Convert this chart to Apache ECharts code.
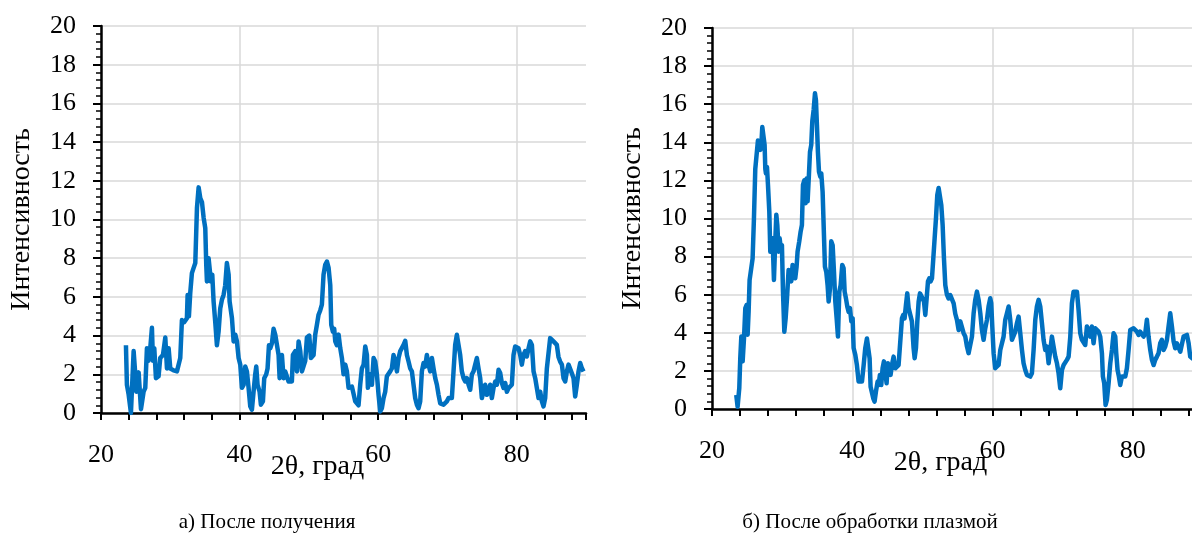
<!DOCTYPE html>
<html>
<head>
<meta charset="utf-8">
<script src="https://cdn.jsdelivr.net/npm/echarts@6/dist/echarts.min.js"></script>
<style>
  html, body { margin: 0; padding: 0; background: #fff; }
  #chart { width: 1192px; height: 540px; }
</style>
</head>
<body>
<div id="chart"></div>
<script>
// а) После получения
const angleA = [23.6, 23.74, 23.99, 24.32, 24.71, 24.95, 25.09, 25.43, 25.77, 26.15, 26.39, 26.63, 26.87, 27.11, 27.35, 27.5, 27.69, 27.93, 28.31, 28.55,
  28.94, 29.28, 29.52, 29.76, 30.0, 30.48, 30.96, 31.44, 31.68, 32.02, 32.4, 32.5, 32.69, 32.88, 33.12, 33.37, 33.61, 33.85, 34.09, 34.33,
  34.57, 34.81, 35.05, 35.19, 35.29, 35.53, 35.77, 35.87, 36.06, 36.25, 36.49, 36.73, 36.97, 37.21, 37.45, 37.69, 37.93, 38.17, 38.42, 38.56,
  38.9, 39.14, 39.38, 39.62, 39.86, 40.1, 40.34, 40.58, 40.82, 41.06, 41.3, 41.54, 41.78, 42.02, 42.26, 42.41, 42.6, 42.89, 43.08, 43.37,
  43.56, 43.85, 44.04, 44.24, 44.43, 44.67, 44.91, 45.15, 45.39, 45.63, 45.78, 45.97, 46.11, 46.35, 46.59, 47.07, 47.55, 47.7, 48.04, 48.28,
  48.52, 48.76, 49.0, 49.24, 49.48, 49.72, 50.06, 50.3, 50.68, 50.92, 51.16, 51.4, 51.64, 51.88, 52.12, 52.36, 52.61, 52.85, 53.09, 53.23,
  53.47, 53.66, 53.81, 54.05, 54.29, 54.53, 54.77, 55.01, 55.25, 55.49, 55.73, 56.21, 56.45, 56.69, 56.93, 57.17, 57.41, 57.65, 57.9, 58.14,
  58.38, 58.52, 58.71, 58.86, 59.1, 59.34, 59.58, 59.82, 60.06, 60.3, 60.54, 60.78, 61.02, 61.26, 61.5, 61.74, 61.98, 62.22, 62.46, 62.71,
  62.95, 63.19, 63.43, 63.67, 63.91, 64.15, 64.39, 64.63, 64.87, 65.11, 65.35, 65.59, 65.83, 66.07, 66.31, 66.55, 66.79, 67.03, 67.27, 67.52,
  67.76, 68.0, 68.24, 68.48, 68.72, 68.96, 69.2, 69.44, 69.68, 69.92, 70.16, 70.4, 70.64, 70.88, 71.12, 71.36, 71.6, 71.84, 72.08, 72.33,
  72.57, 72.81, 73.05, 73.29, 73.53, 73.77, 74.01, 74.25, 74.49, 74.73, 74.97, 75.21, 75.45, 75.69, 75.93, 76.17, 76.41, 76.65, 76.9, 77.14,
  77.38, 77.62, 77.86, 78.1, 78.34, 78.58, 78.82, 79.06, 79.3, 79.54, 79.78, 80.02, 80.26, 80.5, 80.74, 80.98, 81.22, 81.46, 81.71, 81.95,
  82.19, 82.43, 82.67, 82.91, 83.15, 83.39, 83.63, 83.87, 84.11, 84.35, 84.59, 84.83, 85.07, 85.31, 85.55, 85.79, 86.03, 86.27, 86.52, 86.76,
  87.0, 87.24, 87.48, 87.72, 87.96, 88.2, 88.44, 88.68, 88.92, 89.16, 89.4, 89.64];
const intensityA = [3.5, 1.45, 0.95, 0.0, 3.2, 2.0, 1.1, 2.1, 0.2, 1.1, 1.3, 3.35, 2.7, 3.35, 4.4, 2.7, 3.35, 1.8, 1.9, 2.84,
  3.0, 3.9, 2.3, 3.35, 2.3, 2.2, 2.15, 2.84, 4.8, 4.7, 4.9, 6.1, 5.0, 6.2, 7.23, 7.5, 7.75, 10.6, 11.66, 11.1,
  10.9, 10.1, 9.55, 7.66, 6.8, 8.0, 8.0, 6.8, 7.15, 5.77, 4.7, 3.5, 4.2, 5.4, 5.85, 6.1, 6.6, 7.75, 7.15, 5.77,
  4.9, 3.7, 4.05, 3.7, 2.84, 2.5, 1.3, 1.45, 2.4, 2.15, 1.3, 0.35, 0.17, 1.1, 2.0, 2.4, 1.45, 1.1, 0.43, 0.6,
  1.8, 2.0, 2.3, 3.5, 3.35, 3.6, 4.35, 4.05, 4.1, 3.0, 1.8, 2.7, 3.0, 1.8, 2.15, 1.63, 1.63, 3.0, 3.2, 2.15,
  3.7, 3.2, 2.15, 2.15, 2.7, 3.9, 4.0, 2.84, 3.0, 4.05, 4.56, 5.08, 5.3, 5.6, 7.15, 7.66, 7.83, 7.5, 6.6, 4.56,
  4.2, 4.35, 3.7, 3.5, 4.05, 3.35, 2.84, 2.0, 2.5, 2.15, 1.3, 1.37, 1.0, 0.6, 0.68, 0.4, 1.46, 2.3, 2.5, 3.44,
  3.0, 1.3, 1.2, 2.0, 1.46, 2.84, 2.66, 2.0, 0.94, 0.08, 0.25, 0.77, 1.1, 1.9, 1.98, 2.15, 2.3, 3.0, 2.66, 2.15,
  2.84, 3.2, 3.1, 3.52, 3.73, 3.0, 2.66, 2.3, 2.15, 1.46, 0.77, 0.43, 0.25, 0.6, 2.15, 2.58, 2.4, 3.0, 2.5, 2.15,
  2.84, 2.3, 1.8, 1.46, 0.94, 0.5, 0.43, 0.43, 0.5, 0.6, 0.77, 0.68, 0.77, 2.15, 3.52, 4.04, 4.13, 3.0, 2.15, 1.8,
  1.63, 1.8, 1.46, 1.2, 2.0, 2.15, 2.5, 2.84, 2.3, 1.8, 0.77, 1.1, 1.46, 0.94, 1.1, 1.46, 0.77, 1.29, 1.63, 1.46,
  2.23, 2.06, 1.55, 1.29, 1.55, 1.1, 1.29, 1.29, 1.46, 3.0, 3.44, 3.44, 3.35, 3.0, 2.5, 3.0, 3.2, 2.92, 3.35, 3.7,
  3.52, 2.15, 1.8, 1.29, 0.77, 1.1, 0.6, 0.34, 0.77, 2.3, 2.4, 3.87, 3.78, 3.7, 3.61, 3.52, 2.9, 2.66, 2.5, 1.8,
  1.63, 2.15, 2.5, 2.58, 2.05, 1.8, 0.85, 1.46, 2.15, 2.58, 2.32, 2.15];

// б) После обработки плазмой
const angleB = [23.46, 23.65, 23.8, 23.89, 24.03, 24.18, 24.37, 24.56, 24.75, 24.94, 25.08, 25.22, 25.36, 25.6, 25.79, 25.98, 26.17, 26.41, 26.55, 26.74,
  26.88, 27.03, 27.17, 27.36, 27.5, 27.6, 27.69, 27.84, 27.98, 28.17, 28.31, 28.45, 28.64, 28.83, 29.02, 29.17, 29.31, 29.5, 29.64, 29.83,
  29.97, 30.12, 30.31, 30.5, 30.69, 30.92, 31.11, 31.3, 31.49, 31.68, 31.87, 32.06, 32.2, 32.44, 32.63, 32.82, 32.97, 33.16, 33.35, 33.49,
  33.63, 33.82, 33.97, 34.15, 34.3, 34.49, 34.68, 34.82, 34.96, 35.1, 35.25, 35.44, 35.58, 35.77, 35.96, 36.1, 36.29, 36.48, 36.63, 36.82,
  37.0, 37.2, 37.39, 37.58, 37.77, 37.96, 38.15, 38.34, 38.57, 38.76, 38.91, 39.1, 39.29, 39.48, 39.67, 39.86, 40.05, 40.19, 40.43, 40.66,
  40.9, 41.14, 41.38, 41.62, 41.85, 42.09, 42.33, 42.47, 42.61, 42.8, 42.99, 43.18, 43.37, 43.61, 43.75, 43.94, 44.13, 44.32, 44.51, 44.7,
  44.89, 45.08, 45.27, 45.46, 45.65, 45.89, 46.13, 46.37, 46.6, 46.84, 47.08, 47.27, 47.46, 47.65, 47.84, 48.03, 48.27, 48.5, 48.74, 48.89,
  49.08, 49.27, 49.46, 49.65, 49.83, 50.03, 50.22, 50.41, 50.6, 50.79, 50.98, 51.17, 51.36, 51.55, 51.74, 51.93, 52.12, 52.31, 52.5, 52.69,
  52.88, 53.07, 53.26, 53.49, 53.73, 53.97, 54.21, 54.45, 54.68, 54.92, 55.16, 55.4, 55.63, 55.87, 56.11, 56.35, 56.58, 56.82, 57.06, 57.3,
  57.53, 57.77, 58.01, 58.25, 58.48, 58.72, 58.96, 59.2, 59.43, 59.67, 59.81, 59.96, 60.15, 60.38, 60.62, 60.86, 61.1, 61.34, 61.57, 61.81,
  62.05, 62.29, 62.52, 62.76, 63.0, 63.24, 63.47, 63.71, 63.95, 64.19, 64.42, 64.66, 64.9, 65.14, 65.37, 65.61, 65.85, 66.09, 66.32, 66.56,
  66.8, 67.04, 67.27, 67.51, 67.75, 67.99, 68.23, 68.46, 68.7, 68.94, 69.18, 69.41, 69.65, 69.89, 70.13, 70.36, 70.6, 70.84, 71.08, 71.31,
  71.55, 71.79, 72.03, 72.26, 72.5, 72.74, 72.98, 73.21, 73.45, 73.69, 73.93, 74.16, 74.4, 74.64, 74.88, 75.11, 75.35, 75.59, 75.73, 75.92,
  76.11, 76.3, 76.54, 76.78, 77.02, 77.25, 77.49, 77.63, 77.82, 78.01, 78.2, 78.44, 78.68, 78.92, 79.15, 79.39, 79.63, 79.87, 80.1, 80.34,
  80.58, 80.82, 81.05, 81.29, 81.53, 81.77, 82.0, 82.24, 82.48, 82.72, 82.96, 83.19, 83.43, 83.67, 83.9, 84.14, 84.38, 84.62, 84.86, 85.09,
  85.33, 85.57, 85.81, 86.04, 86.28, 86.52, 86.76, 86.99, 87.23, 87.47, 87.71, 87.95, 88.18, 88.47, 88.9, 89.5];
const intensityB = [0.74, 0.12, 0.2, 1.1, 2.66, 3.8, 2.5, 3.7, 5.3, 5.46, 3.9, 5.1, 6.77, 6.86, 7.9, 10.0, 12.6, 12.7, 14.1, 14.2,
  13.6, 13.86, 14.8, 14.9, 13.86, 12.6, 12.37, 12.7, 11.76, 10.36, 8.26, 8.26, 8.96, 6.77, 8.8, 10.2, 9.66, 8.26, 8.96, 8.4,
  8.6, 6.16, 4.06, 4.76, 5.8, 7.3, 7.2, 6.7, 7.56, 7.65, 6.86, 7.47, 8.26, 8.8, 9.3, 9.66, 11.76, 12.0, 10.8, 12.1,
  10.9, 12.3, 13.5, 13.86, 15.1, 15.7, 16.57, 16.2, 14.9, 13.5, 12.46, 12.2, 12.37, 11.4, 9.14, 7.47, 7.2, 6.5, 5.64, 6.33,
  8.8, 8.6, 7.2, 5.64, 4.76, 3.8, 6.16, 6.5, 7.56, 7.4, 6.16, 5.8, 5.37, 5.1, 5.3, 4.6, 4.76, 3.2, 2.84, 2.3,
  1.44, 1.35, 1.44, 2.3, 3.2, 3.7, 3.7, 2.66, 1.17, 1.08, 0.56, 0.39, 0.91, 1.44, 1.26, 1.79, 1.26, 2.14, 2.5, 1.96,
  1.35, 2.4, 2.5, 1.79, 2.3, 2.75, 2.14, 2.14, 2.3, 2.3, 4.76, 4.94, 4.76, 5.46, 6.07, 5.3, 4.94, 4.6, 3.2, 2.66,
  3.2, 4.6, 5.64, 6.07, 5.98, 5.8, 5.64, 4.94, 5.8, 6.7, 6.86, 6.7, 6.86, 7.9, 8.96, 10.0, 11.24, 11.6, 11.5, 10.7,
  9.66, 7.9, 6.5, 6.0, 5.8, 5.98, 6.0, 5.55, 5.0, 4.68, 4.15, 4.6, 4.68, 3.98, 3.8, 3.28, 2.93, 2.84, 3.8, 5.03,
  5.73, 6.16, 5.73, 5.03, 4.15, 3.63, 4.24, 4.68, 5.38, 5.81, 5.55, 4.33, 2.93, 2.14, 2.23, 2.31, 3.1, 3.19, 3.8, 4.68,
  5.03, 5.38, 4.68, 3.63, 3.54, 4.06, 4.5, 4.85, 3.98, 3.1, 2.4, 2.05, 1.79, 1.7, 1.7, 1.88, 3.1, 4.68, 5.38, 5.73,
  5.38, 4.5, 3.63, 3.1, 3.28, 2.4, 3.1, 3.8, 3.28, 2.75, 2.4, 1.88, 1.09, 2.05, 2.31, 2.23, 2.58, 2.75, 3.8, 5.55,
  6.16, 6.25, 6.16, 5.2, 3.98, 3.63, 3.54, 3.36, 4.33, 4.15, 3.8, 4.33, 3.45, 4.24, 4.15, 4.06, 3.8, 2.93, 1.7, 1.35,
  0.21, 0.48, 1.35, 2.4, 3.1, 3.98, 3.8, 2.93, 2.05, 1.7, 1.26, 1.7, 1.79, 1.7, 2.14, 3.1, 4.15, 4.24, 4.24, 4.15,
  4.06, 3.89, 4.06, 3.98, 3.8, 3.98, 4.68, 3.8, 3.1, 2.58, 2.31, 2.58, 2.75, 2.93, 3.45, 3.63, 3.1, 3.28, 3.63, 4.33,
  5.03, 4.33, 3.54, 3.19, 3.45, 3.36, 3.01, 3.1, 3.8, 3.71, 3.89, 3.45, 2.75, 2.66, 3.0, 3.3];

// подписи осей
const xLabelValues = [20, 40, 60, 80];
const xName = '2θ, град';
const yName = 'Интенсивность';
const captions = ['а) После получения', 'б) После обработки плазмой'];

const FONT = '"Liberation Serif", "Times New Roman", serif';
const LINE_COLOR = '#0070C0';
const GRID_COLOR = '#D9D9D9';

const chart = echarts.init(document.getElementById('chart'));

const grids = [
  { left: 101, top: 26, width: 485, height: 387, outerBoundsMode: 'none', containLabel: false },
  { left: 712, top: 28, width: 491, height: 381, outerBoundsMode: 'none', containLabel: false }
];
const namePadding = [52, 34];

const xAxes = [];
const yAxes = [];
grids.forEach((g, i) => {
  // ось с засечками через 4 градуса
  xAxes.push({
    type: 'value', gridIndex: i, position: 'bottom', min: 20, max: 90, interval: 4,
    axisLine: { show: true, onZero: false, lineStyle: { color: '#000', width: 2.5 } },
    axisTick: { show: true, length: 7, lineStyle: { color: '#000', width: 2 } },
    axisLabel: { show: false },
    splitLine: { show: false }
  });
  // ось с подписями и сеткой через 20 градусов
  xAxes.push({
    type: 'value', gridIndex: i, position: 'bottom', min: 20, max: 90, interval: 20,
    axisLine: { show: false, onZero: false },
    axisTick: { show: false },
    axisLabel: {
      margin: 29, fontSize: 26, fontFamily: FONT, color: '#000',
      formatter: v => (xLabelValues.includes(v) ? String(v) : '')
    },
    splitLine: { show: true, showMaxLine: false, lineStyle: { color: GRID_COLOR, width: 1.5 } },
    name: xName, nameLocation: 'middle', nameGap: 40, nameMoveOverlap: false,
    nameTextStyle: { fontSize: 28, fontFamily: FONT, color: '#000', padding: [0, namePadding[i], 0, 0] }
  });
  yAxes.push({
    type: 'value', gridIndex: i, min: 0, max: 20, interval: 2,
    axisLine: { show: true, lineStyle: { color: '#000', width: 2.5 } },
    axisTick: { show: true, length: 8, lineStyle: { color: '#000', width: 2 } },
    minorTick: { show: true, splitNumber: 5, length: 5, lineStyle: { color: '#000', width: 1.5 } },
    axisLabel: { margin: 25, fontSize: 26, fontFamily: FONT, color: '#000' },
    splitLine: { show: true, lineStyle: { color: GRID_COLOR, width: 1.5 } },
    name: yName, nameLocation: 'middle', nameGap: 65, nameMoveOverlap: false,
    nameTextStyle: { fontSize: 28, fontFamily: FONT, color: '#000' }
  });
});

const toPairs = (xs, ys) => xs.map((x, k) => [x, ys[k]]);

const option = {
  animation: false,
  backgroundColor: '#fff',
  grid: grids,
  xAxis: xAxes,
  yAxis: yAxes,
  graphic: [
    { type: 'text', x: 267, y: 522, style: { text: captions[0], fontSize: 21, fontFamily: FONT, fill: '#000', align: 'center', verticalAlign: 'middle' } },
    { type: 'text', x: 870, y: 522, style: { text: captions[1], fontSize: 21, fontFamily: FONT, fill: '#000', align: 'center', verticalAlign: 'middle' } }
  ],
  series: [
    {
      type: 'line', xAxisIndex: 0, yAxisIndex: 0,
      data: toPairs(angleA, intensityA),
      showSymbol: false,
      lineStyle: { color: LINE_COLOR, width: 4.5, join: 'round' }
    },
    {
      type: 'line', xAxisIndex: 2, yAxisIndex: 1,
      data: toPairs(angleB, intensityB),
      showSymbol: false,
      lineStyle: { color: LINE_COLOR, width: 4.5, join: 'round' }
    }
  ]
};

chart.setOption(option);
</script>
</body>
</html>
